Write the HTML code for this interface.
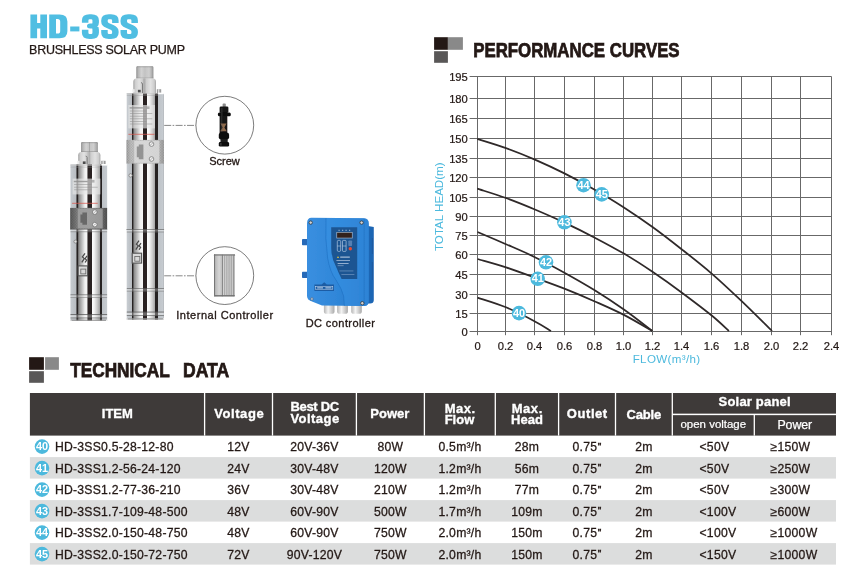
<!DOCTYPE html>
<html><head><meta charset="utf-8"><title>HD-3SS Brushless Solar Pump</title>
<style>
html,body{margin:0;padding:0;background:#fff;}
body{width:849px;height:583px;overflow:hidden;font-family:"Liberation Sans",sans-serif;}
svg{display:block;position:absolute;left:0;top:0;font-family:"Liberation Sans",sans-serif;will-change:transform;filter:grayscale(0);}
</style></head><body>
<svg width="849" height="583" viewBox="0 0 849 583">
<defs>
<linearGradient id="steel" x1="0" x2="1" y1="0" y2="0">
 <stop offset="0" stop-color="#6f6f6f"/>
 <stop offset="0.04" stop-color="#c9c9c9"/>
 <stop offset="0.10" stop-color="#9a9a9a"/>
 <stop offset="0.15" stop-color="#f2f2f2"/>
 <stop offset="0.19" stop-color="#4a4a4a"/>
 <stop offset="0.28" stop-color="#555"/>
 <stop offset="0.31" stop-color="#fbfbfb"/>
 <stop offset="0.46" stop-color="#f4f4f4"/>
 <stop offset="0.49" stop-color="#1c1c1c"/>
 <stop offset="0.60" stop-color="#2a2a2a"/>
 <stop offset="0.63" stop-color="#fdfdfd"/>
 <stop offset="0.78" stop-color="#ececec"/>
 <stop offset="0.85" stop-color="#a8a8a8"/>
 <stop offset="0.88" stop-color="#3c3c3c"/>
 <stop offset="0.96" stop-color="#505050"/>
 <stop offset="1" stop-color="#9a9a9a"/>
</linearGradient>
<linearGradient id="cap" x1="0" x2="1" y1="0" y2="0">
 <stop offset="0" stop-color="#8a8a8a"/>
 <stop offset="0.1" stop-color="#b4b4b4"/>
 <stop offset="0.3" stop-color="#d2d2d2"/>
 <stop offset="0.48" stop-color="#c4c4c4"/>
 <stop offset="0.5" stop-color="#a6a6a6"/>
 <stop offset="0.54" stop-color="#c6c6c6"/>
 <stop offset="0.75" stop-color="#cfcfcf"/>
 <stop offset="0.92" stop-color="#adadad"/>
 <stop offset="1" stop-color="#888"/>
</linearGradient>
<linearGradient id="hexf" x1="0" x2="1" y1="0" y2="0">
 <stop offset="0" stop-color="#a2a2a2"/>
 <stop offset="0.2" stop-color="#cfcfcf"/>
 <stop offset="0.55" stop-color="#e2e2e2"/>
 <stop offset="0.85" stop-color="#cdcdcd"/>
 <stop offset="1" stop-color="#a6a6a6"/>
</linearGradient>
<linearGradient id="mesh" x1="0" x2="1" y1="0" y2="0">
 <stop offset="0" stop-color="#a8a8a8"/>
 <stop offset="0.12" stop-color="#c6c6c6"/>
 <stop offset="0.5" stop-color="#d2d2d2"/>
 <stop offset="0.85" stop-color="#c2c2c2"/>
 <stop offset="1" stop-color="#a6a6a6"/>
</linearGradient>
<linearGradient id="meshd" x1="0" x2="1" y1="0" y2="0">
 <stop offset="0" stop-color="#5e5e5e"/>
 <stop offset="0.25" stop-color="#8e8e8e"/>
 <stop offset="0.5" stop-color="#9a9a9a"/>
 <stop offset="0.8" stop-color="#7c7c7c"/>
 <stop offset="1" stop-color="#555"/>
</linearGradient>
<linearGradient id="strip" x1="0" x2="1" y1="0" y2="0">
 <stop offset="0" stop-color="#bdbdbd"/>
 <stop offset="0.5" stop-color="#dedede"/>
 <stop offset="1" stop-color="#b0b0b0"/>
</linearGradient>
<linearGradient id="blue" x1="0" x2="1" y1="0" y2="0">
 <stop offset="0" stop-color="#3a8fe0"/>
 <stop offset="0.5" stop-color="#2f86d8"/>
 <stop offset="1" stop-color="#2472c4"/>
</linearGradient>
<linearGradient id="gland" x1="0" x2="1" y1="0" y2="0">
 <stop offset="0" stop-color="#b5b5b5"/>
 <stop offset="0.4" stop-color="#f4f4f4"/>
 <stop offset="1" stop-color="#a9a9a9"/>
</linearGradient>
<linearGradient id="ictl" x1="0" x2="1" y1="0" y2="0">
 <stop offset="0" stop-color="#8a8a8a"/>
 <stop offset="0.08" stop-color="#bcbcbc"/>
 <stop offset="0.25" stop-color="#d6d6d6"/>
 <stop offset="0.37" stop-color="#c0c0c0"/>
 <stop offset="0.4" stop-color="#999"/>
 <stop offset="0.45" stop-color="#d0d0d0"/>
 <stop offset="0.9" stop-color="#c4c4c4"/>
 <stop offset="1" stop-color="#8e8e8e"/>
</linearGradient>
</defs>
<g><path d="M30.4 14.4h6.7v8.6h3.2v-8.6h6.7v23.800000000000004h-6.7v-9.6h-3.2v9.6h-6.7z" fill="#50bee2"/><path fill-rule="evenodd" d="M49.2 14.4h10.4q7.8 0 7.8 7v9.8q0 7 -7.8 7h-10.4z M56.0 19.1v14.400000000000004h1.6q2.6 0 2.6 -2.6v-9.2q0 -2.6 -2.6 -2.6z" fill="#50bee2"/><rect x="70.2" y="26.5" width="9.2" height="4.9" fill="#50bee2"/><path transform="translate(81.9 0) scale(1.3 1)" d="M2.5 22.8 V20.4 Q2.5 16.7 5.9 16.7 H7.2 Q10.6 16.7 10.6 20.4 V22.4 Q10.6 26 7.6 26 H6.4 H7.6 Q10.6 26 10.6 29.8 V32.7 Q10.6 36.4 7.2 36.4 H5.9 Q2.5 36.4 2.5 32.7 V29.8" fill="none" stroke="#50bee2" stroke-width="5.0" stroke-linejoin="round"/><path transform="translate(101.2 0) scale(1.3 1)" d="M10.9 23 V20.4 Q10.9 16.7 7.5 16.7 H5.9 Q2.5 16.7 2.5 20.4 V21.4 Q2.5 24.2 5 25.5 L8.5 27.5 Q10.9 28.9 10.9 31.6 V32.7 Q10.9 36.4 7.5 36.4 H5.9 Q2.5 36.4 2.5 32.7 V30" fill="none" stroke="#50bee2" stroke-width="5.0" stroke-linejoin="round"/><path transform="translate(120.5 0) scale(1.3 1)" d="M10.9 23 V20.4 Q10.9 16.7 7.5 16.7 H5.9 Q2.5 16.7 2.5 20.4 V21.4 Q2.5 24.2 5 25.5 L8.5 27.5 Q10.9 28.9 10.9 31.6 V32.7 Q10.9 36.4 7.5 36.4 H5.9 Q2.5 36.4 2.5 32.7 V30" fill="none" stroke="#50bee2" stroke-width="5.0" stroke-linejoin="round"/></g>
<text x="29.1" y="53.8" font-size="12.5" text-anchor="start" font-weight="normal" fill="#231815" textLength="155.9" lengthAdjust="spacing" stroke="#231815" stroke-width="0.25">BRUSHLESS SOLAR PUMP</text>
<defs>
<linearGradient id="stB" gradientUnits="userSpaceOnUse" x1="126.8" x2="163.9" y1="0" y2="0">
 <stop offset="0.0000" stop-color="#aeb2b7"/>
 <stop offset="0.0189" stop-color="#c6cbd0"/>
 <stop offset="0.1280" stop-color="#b8bcc1"/>
 <stop offset="0.1402" stop-color="#272323"/>
 <stop offset="0.1725" stop-color="#272323"/>
 <stop offset="0.1860" stop-color="#868686"/>
 <stop offset="0.2941" stop-color="#c6c6c6"/>
 <stop offset="0.3654" stop-color="#f1f1f1"/>
 <stop offset="0.4299" stop-color="#f7f7f7"/>
 <stop offset="0.4420" stop-color="#2a2424"/>
 <stop offset="0.5418" stop-color="#2a2424"/>
 <stop offset="0.5553" stop-color="#fdfdfd"/>
 <stop offset="0.6079" stop-color="#f5f5f5"/>
 <stop offset="0.6984" stop-color="#c9c9c9"/>
 <stop offset="0.7628" stop-color="#a2a2a2"/>
 <stop offset="0.7736" stop-color="#252121"/>
 <stop offset="0.8275" stop-color="#252121"/>
 <stop offset="0.8410" stop-color="#bec3c8"/>
 <stop offset="0.9757" stop-color="#c6cbd0"/>
 <stop offset="1.0000" stop-color="#a4a8ad"/>
</linearGradient>
<linearGradient id="stS" gradientUnits="userSpaceOnUse" x1="69.9" x2="107.9" y1="0" y2="0">
 <stop offset="0.0000" stop-color="#aeb2b7"/>
 <stop offset="0.0184" stop-color="#c6cbd0"/>
 <stop offset="0.1671" stop-color="#b8bcc1"/>
 <stop offset="0.1789" stop-color="#272323"/>
 <stop offset="0.2158" stop-color="#272323"/>
 <stop offset="0.2289" stop-color="#868686"/>
 <stop offset="0.3297" stop-color="#c6c6c6"/>
 <stop offset="0.3965" stop-color="#f1f1f1"/>
 <stop offset="0.4566" stop-color="#f7f7f7"/>
 <stop offset="0.4684" stop-color="#2a2424"/>
 <stop offset="0.5711" stop-color="#2a2424"/>
 <stop offset="0.5842" stop-color="#fdfdfd"/>
 <stop offset="0.6341" stop-color="#f5f5f5"/>
 <stop offset="0.7204" stop-color="#c9c9c9"/>
 <stop offset="0.7816" stop-color="#a2a2a2"/>
 <stop offset="0.7921" stop-color="#252121"/>
 <stop offset="0.8342" stop-color="#252121"/>
 <stop offset="0.8474" stop-color="#bec3c8"/>
 <stop offset="0.9763" stop-color="#c6cbd0"/>
 <stop offset="1.0000" stop-color="#a4a8ad"/>
</linearGradient>
<filter id="soft" x="-5%" y="-5%" width="110%" height="110%"><feGaussianBlur stdDeviation="0.38"/></filter>
<pattern id="mp" width="1.6" height="1.6" patternUnits="userSpaceOnUse">
 <rect width="1.6" height="1.6" fill="#000" opacity="0"/>
 <rect width="0.8" height="0.8" fill="#000" opacity="0.16"/>
 <rect x="0.8" y="0.8" width="0.8" height="0.8" fill="#000" opacity="0.16"/>
</pattern>
</defs>
<g filter="url(#soft)">
<path d="M82.1 142.1 H96.8 Q97.8 142.1 97.8 143.29999999999998 V152.1 H81.1 V143.29999999999998 Q81.1 142.1 82.1 142.1Z" fill="url(#cap)"/>
<rect x="81.69999999999999" y="142.1" width="15.500000000000004" height="1.1" fill="#8c8c8c" opacity="0.55"/>
<rect x="81.1" y="151.1" width="16.700000000000003" height="1" fill="#8a8a8a" opacity="0.55"/>
<path d="M78.2 164.8 V155.3 Q78.2 152.3 81.2 151.9 H88.70000000000002 V164.8Z" fill="url(#hexf)"/>
<path d="M88.70000000000002 164.8 V151.9 H97.4 Q100.4 152.3 100.4 155.3 V164.8Z" fill="url(#hexf)"/>
<path d="M87.10000000000002 164.8 V157.3 q0 -1 -1.4 -1.2" fill="none" stroke="#6d6d6d" stroke-width="0.9"/>
<rect x="82.8" y="161.4" width="2.8" height="2.6" fill="#4c4c4c"/>
<rect x="77.0" y="160.8" width="2.6" height="3.4" fill="#f2f2f2" opacity="0.9"/>
<rect x="101.2" y="160.8" width="4.4" height="4" fill="#9d9d9d"/>
<rect x="102.60000000000001" y="160.8" width="1.1" height="4" fill="#f0f0f0"/>
<rect x="70.5" y="164.4" width="36.6" height="156.6" fill="url(#stS)"/>
<rect x="70.5" y="164.4" width="31.0" height="1.4" fill="#c9c9c9" opacity="0.7"/>
<rect x="101.3" y="164.0" width="5.8" height="1.6" fill="#fff"/>
<rect x="70.5" y="166.8" width="31.0" height="0.6" fill="#999" opacity="0.6"/>
<rect x="72.6" y="178.6" width="27.80000000000001" height="15.800000000000011" fill="#e6e6e6" opacity="0.66"/>
<rect x="73.8" y="180.79999999999998" width="13.900000000000006" height="1.4" fill="#8d8d8d" opacity="0.8"/>
<rect x="91.504" y="180.0" width="3" height="2.6" fill="#9a9a9a" opacity="0.7"/>
<rect x="74.1" y="184.2" width="17.4" height="0.8" fill="#8f8f8f" opacity="0.65"/>
<rect x="74.1" y="186.8" width="23.6" height="0.8" fill="#8f8f8f" opacity="0.65"/>
<rect x="74.1" y="189.4" width="17.4" height="0.8" fill="#8f8f8f" opacity="0.65"/>
<rect x="72.1" y="202.8" width="25.6" height="1" fill="#d8574d" opacity="0.75"/>
<rect x="70.2" y="207.9" width="36.9" height="21.299999999999983" fill="url(#meshd)"/>
<rect x="70.2" y="207.9" width="36.9" height="21.299999999999983" fill="url(#mp)"/>
<rect x="77.8" y="208.70000000000002" width="24.9" height="19.69999999999998" fill="#a2a2a2" opacity="0.8"/>
<path d="M80.4 214.5 h2 v-2 h4.6 v12.299999999999983 h-4.6 v-2 h-2z" fill="#5f5f5f" opacity="0.85"/>
<circle cx="94.8" cy="212.1" r="2.3" fill="#f4f4f4" stroke="#6c6c6c" stroke-width="0.7"/>
<path d="M93.6 212.9 l2.4 -1.6" stroke="#888" stroke-width="0.6"/>
<circle cx="94.8" cy="224.6" r="2.3" fill="#f4f4f4" stroke="#6c6c6c" stroke-width="0.7"/>
<path d="M93.6 225.4 l2.4 -1.6" stroke="#888" stroke-width="0.6"/>
<rect x="70.1" y="228.8" width="37.2" height="0.9" fill="#5e5e5e" opacity="0.7"/>
<rect x="70.5" y="229.70000000000002" width="36.6" height="1.6" fill="#fff" opacity="0.3"/>
<rect x="70.5" y="231.4" width="36.6" height="0.8" fill="#777" opacity="0.7"/>
<rect x="70.5" y="294.4" width="36.6" height="0.9" fill="#5e5e5e" opacity="0.75"/>
<rect x="70.5" y="295.4" width="36.6" height="1.4" fill="#fff" opacity="0.35"/>
<rect x="70.5" y="296.9" width="36.6" height="0.8" fill="#777" opacity="0.7"/>
<rect x="70.5" y="314.1" width="36.6" height="1" fill="#555" opacity="0.8"/>
<rect x="70.5" y="315.1" width="36.6" height="2.4" fill="#fff" opacity="0.3"/>
<rect x="70.5" y="317.5" width="36.6" height="0.9" fill="#666" opacity="0.75"/>
<rect x="70.5" y="319.6" width="36.6" height="1.4" fill="#9a9a9a" opacity="0.85"/>
<path d="M70.5 321 v-2 l1.2 2z M107.1 321 v-2 l-1.2 2z" fill="#fff"/>
<path d="M85.0 253.3 l-2.6 3.6 l1.9 1.6 l-2.5 3.8 M87.0 255.9 l-1.9 2.7 l1.5 1.4 l-1.5 2.5" fill="none" stroke="#4a4a4a" stroke-width="1.25"/>
<rect x="78.2" y="265.90000000000003" width="9.4" height="9.9" fill="#d9d9d9" stroke="#555" stroke-width="1.1"/>
<rect x="80.8" y="269.1" width="5" height="4.8" fill="none" stroke="#666" stroke-width="0.8"/>
<circle cx="75.4" cy="241.6" r="1.5" fill="#e2e2e2" stroke="#666" stroke-width="0.6"/>
<path d="M137.3 66.2 H152.4 Q153.4 66.2 153.4 67.4 V78.6 H136.3 V67.4 Q136.3 66.2 137.3 66.2Z" fill="url(#cap)"/>
<rect x="136.9" y="66.2" width="15.899999999999995" height="1.1" fill="#8c8c8c" opacity="0.55"/>
<rect x="136.3" y="77.6" width="17.099999999999994" height="1" fill="#8a8a8a" opacity="0.55"/>
<path d="M133.3 93.2 V81.80000000000001 Q133.3 78.80000000000001 136.3 78.4 H144.05 V93.2Z" fill="url(#hexf)"/>
<path d="M144.05 93.2 V78.4 H153 Q156 78.80000000000001 156 81.80000000000001 V93.2Z" fill="url(#hexf)"/>
<path d="M142.45000000000002 93.2 V83.80000000000001 q0 -1 -1.4 -1.2" fill="none" stroke="#6d6d6d" stroke-width="0.9"/>
<rect x="137.9" y="89.8" width="2.8" height="2.6" fill="#4c4c4c"/>
<rect x="132.10000000000002" y="89.2" width="2.6" height="3.4" fill="#f2f2f2" opacity="0.9"/>
<rect x="156.8" y="89.2" width="4.4" height="4" fill="#9d9d9d"/>
<rect x="158.2" y="89.2" width="1.1" height="4" fill="#f0f0f0"/>
<rect x="126.8" y="93" width="37.1" height="226.60000000000002" fill="url(#stB)"/>
<rect x="126.8" y="93" width="31.5" height="1.4" fill="#c9c9c9" opacity="0.7"/>
<rect x="158.1" y="92.6" width="5.8" height="1.6" fill="#fff"/>
<rect x="126.8" y="95.4" width="31.5" height="0.6" fill="#999" opacity="0.6"/>
<rect x="128.4" y="105" width="26.599999999999994" height="23.400000000000006" fill="#e6e6e6" opacity="0.66"/>
<rect x="129.6" y="107.2" width="13.299999999999997" height="1.4" fill="#8d8d8d" opacity="0.8"/>
<rect x="146.488" y="106.4" width="3" height="2.6" fill="#9a9a9a" opacity="0.7"/>
<rect x="129.9" y="110.6" width="16.5" height="0.8" fill="#8f8f8f" opacity="0.65"/>
<rect x="129.9" y="113.2" width="22.4" height="0.8" fill="#8f8f8f" opacity="0.65"/>
<rect x="129.9" y="115.8" width="16.5" height="0.8" fill="#8f8f8f" opacity="0.65"/>
<rect x="129.9" y="118.4" width="22.4" height="0.8" fill="#8f8f8f" opacity="0.65"/>
<rect x="129.9" y="121.0" width="16.5" height="0.8" fill="#8f8f8f" opacity="0.65"/>
<rect x="129.9" y="123.6" width="22.4" height="0.8" fill="#8f8f8f" opacity="0.65"/>
<rect x="128.4" y="133.8" width="26.1" height="1" fill="#d8574d" opacity="0.75"/>
<rect x="126.5" y="139.9" width="37.4" height="23.69999999999999" fill="url(#mesh)"/>
<rect x="126.5" y="139.9" width="37.4" height="23.69999999999999" fill="url(#mp)"/>
<rect x="134.2" y="140.70000000000002" width="25.2" height="22.099999999999987" fill="#dcdcdc" opacity="0.8"/>
<path d="M136.8 146.5 h2 v-2 h4.6 v14.699999999999989 h-4.6 v-2 h-2z" fill="#878787" opacity="0.85"/>
<circle cx="151.5" cy="144.1" r="2.3" fill="#f4f4f4" stroke="#6c6c6c" stroke-width="0.7"/>
<path d="M150.3 144.9 l2.4 -1.6" stroke="#888" stroke-width="0.6"/>
<circle cx="151.5" cy="159.0" r="2.3" fill="#f4f4f4" stroke="#6c6c6c" stroke-width="0.7"/>
<path d="M150.3 159.8 l2.4 -1.6" stroke="#888" stroke-width="0.6"/>
<rect x="126.39999999999999" y="229" width="37.7" height="0.9" fill="#5e5e5e" opacity="0.7"/>
<rect x="126.8" y="229.9" width="37.1" height="1.6" fill="#fff" opacity="0.3"/>
<rect x="126.8" y="231.6" width="37.1" height="0.8" fill="#777" opacity="0.7"/>
<rect x="126.8" y="288.2" width="37.1" height="0.9" fill="#5e5e5e" opacity="0.75"/>
<rect x="126.8" y="289.2" width="37.1" height="1.4" fill="#fff" opacity="0.35"/>
<rect x="126.8" y="290.7" width="37.1" height="0.8" fill="#777" opacity="0.7"/>
<rect x="126.8" y="311.6" width="37.1" height="1" fill="#555" opacity="0.8"/>
<rect x="126.8" y="312.6" width="37.1" height="2.4" fill="#fff" opacity="0.3"/>
<rect x="126.8" y="315.0" width="37.1" height="0.9" fill="#666" opacity="0.75"/>
<rect x="126.8" y="318.20000000000005" width="37.1" height="1.4" fill="#9a9a9a" opacity="0.85"/>
<path d="M126.8 319.6 v-2 l1.2 2z M163.9 319.6 v-2 l-1.2 2z" fill="#fff"/>
<path d="M139.0 240.6 l-2.6 3.6 l1.9 1.6 l-2.5 3.8 M141.0 243.2 l-1.9 2.7 l1.5 1.4 l-1.5 2.5" fill="none" stroke="#4a4a4a" stroke-width="1.25"/>
<rect x="132.2" y="253.2" width="9.4" height="9.9" fill="#d9d9d9" stroke="#555" stroke-width="1.1"/>
<rect x="134.79999999999998" y="256.4" width="5" height="4.8" fill="none" stroke="#666" stroke-width="0.8"/>
<circle cx="130.6" cy="175.4" r="1.7" fill="#e6e6e6" stroke="#666" stroke-width="0.6"/>
</g>
<line x1="164.2" y1="125.4" x2="195.8" y2="125.4" stroke="#555" stroke-width="0.7" stroke-dasharray="7 1.4 1.6 1.4"/>
<circle cx="224.8" cy="125.2" r="28.9" fill="#fff" stroke="#505050" stroke-width="0.75"/>
<line x1="164.2" y1="275.8" x2="195.8" y2="275.8" stroke="#555" stroke-width="0.7" stroke-dasharray="7 1.4 1.6 1.4"/>
<circle cx="224.8" cy="275.6" r="28.9" fill="#fff" stroke="#505050" stroke-width="0.75"/>
<g filter="url(#soft)">
<rect x="222.6" y="103.6" width="3.2" height="3.6" rx="0.8" fill="#8c8c8c"/>
<rect x="219.6" y="106.4" width="8.8" height="6.6" rx="1.4" fill="#151515"/>
<rect x="217.9" y="112.4" width="12.9" height="3.8" rx="1.5" fill="#0e0e0e"/>
<rect x="219.6" y="115.8" width="7.7" height="17.2" fill="#141212"/>
<path d="M220.4 123.6 L226.6 123.6 L224.4 127.4 L226.8 131.2 L220.2 131.2 L222.6 127.4Z" fill="#8e6a4c"/>
<rect x="221.2" y="108" width="1.2" height="24" fill="#555" opacity="0.45"/>
<rect x="218.8" y="132.4" width="10.3" height="7.2" rx="2.4" fill="#0f0f0f"/>
<rect x="220.5" y="139" width="7.2" height="3.6" fill="#1a1a1a"/>
<rect x="218.8" y="142" width="10.3" height="4.6" rx="1.4" fill="#0c0c0c"/>
<rect x="220.2" y="143" width="1.4" height="2.6" fill="#666" opacity="0.5"/>
</g>
<g filter="url(#soft)">
<rect x="214" y="254.4" width="21" height="42" rx="0.8" fill="url(#ictl)"/>
<rect x="222.4" y="255.4" width="0.9" height="40" fill="#6f6f6f" opacity="0.75"/>
<rect x="223.3" y="255.4" width="0.8" height="40" fill="#efefef" opacity="0.7"/>
<rect x="224.5" y="255.4" width="0.9" height="40" fill="#6f6f6f" opacity="0.75"/>
<rect x="225.4" y="255.4" width="0.8" height="40" fill="#efefef" opacity="0.7"/>
<rect x="226.6" y="255.4" width="0.9" height="40" fill="#6f6f6f" opacity="0.75"/>
<rect x="227.5" y="255.4" width="0.8" height="40" fill="#efefef" opacity="0.7"/>
<rect x="228.7" y="255.4" width="0.9" height="40" fill="#6f6f6f" opacity="0.75"/>
<rect x="229.6" y="255.4" width="0.8" height="40" fill="#efefef" opacity="0.7"/>
<rect x="230.8" y="255.4" width="0.9" height="40" fill="#6f6f6f" opacity="0.75"/>
<rect x="231.7" y="255.4" width="0.8" height="40" fill="#efefef" opacity="0.7"/>
<rect x="232.9" y="255.4" width="0.9" height="40" fill="#6f6f6f" opacity="0.75"/>
<rect x="233.8" y="255.4" width="0.8" height="40" fill="#efefef" opacity="0.7"/>
<rect x="214" y="254.4" width="21" height="1.1" fill="#6c6c6c"/>
<rect x="214.6" y="295.2" width="20" height="1.2" fill="#666"/>
<rect x="214" y="254.4" width="1" height="42" fill="#777"/>
</g>
<text x="224.5" y="165.3" font-size="11" text-anchor="middle" fill="#231815" stroke="#231815" stroke-width="0.32" textLength="30.4" lengthAdjust="spacing">Screw</text>
<text x="224.7" y="319" font-size="11" text-anchor="middle" fill="#231815" stroke="#231815" stroke-width="0.32" textLength="96.9" lengthAdjust="spacing">Internal Controller</text>
<text x="340.3" y="327.2" font-size="11" text-anchor="middle" fill="#231815" stroke="#231815" stroke-width="0.32" textLength="69.3" lengthAdjust="spacing">DC controller</text>
<g filter="url(#soft)">
<rect x="302" y="239" width="5.6" height="6.2" rx="0.8" fill="#2569b8"/>
<rect x="302" y="271.8" width="5.6" height="6.2" rx="0.8" fill="#2569b8"/>
<rect x="323.9" y="303" width="10.6" height="10.8" rx="2.6" fill="url(#gland)"/>
<rect x="337.1" y="303" width="10.8" height="10.8" rx="2.6" fill="url(#gland)"/>
<rect x="351.2" y="303" width="10.6" height="10.8" rx="2.6" fill="url(#gland)"/>
<path d="M368 226 L373.8 227 L373.8 300 Q373.8 303.6 370 303.6 L368 303.6Z" fill="#1f66b4"/>
<path d="M372.4 238 V254 M372.4 262 V280" stroke="#174f90" stroke-width="0.8" fill="none" opacity="0.7"/>
<path d="M311.5 217.8 L364 218.2 Q368.8 218.4 368.8 224 L368.8 301 Q368.8 306 364 306 L322 305.6 L312 301.6 Q307 299.6 307 296 L307 223.5 Q307 217.8 311.5 217.8Z" fill="url(#blue)"/>
<path d="M326 218 Q325 240 327.6 258 Q330 272 336 280 Q342 289 343.6 296 L344.4 305.8 L364 306 Q368.8 306 368.8 301 L368.8 224 Q368.8 218.4 364 218.2Z" fill="#3691e4" opacity="0.55"/>
<path d="M326 218 Q325 240 327.6 258 Q330 272 336 280 Q342 289 343.6 296 L344.4 305.8" fill="none" stroke="#1f6dc0" stroke-width="0.7" opacity="0.8"/>
<path d="M364.2 219 V305.6" stroke="#1e69ba" stroke-width="0.8" opacity="0.6"/>
<path d="M331.2 227.2 L357.2 227.2 L357.2 279 L341.6 279 Q338.6 273 336.6 268 Q331.2 258 331.2 248Z" fill="#1d5592"/>
<rect x="336.4" y="232" width="16.2" height="6.4" fill="#9db3c8"/>
<rect x="337.1" y="232.7" width="14.8" height="5" fill="#33211f"/>
<path d="M338.5 230.3h1.2 M342 230.3h1.2 M345.5 230.3h1.2 M349 230.3h1.2" stroke="#c7d8ec" stroke-width="0.8"/>
<rect x="337.3" y="240.4" width="3.4" height="11" rx="1.2" fill="none" stroke="#d7e5f5" stroke-width="0.55"/>
<rect x="342.5" y="240.4" width="3.6" height="11" rx="0.8" fill="none" stroke="#d7e5f5" stroke-width="0.55"/>
<rect x="348.3" y="240.4" width="3.8" height="5.6" rx="0.8" fill="#5f88b8" opacity="0.85"/>
<path d="M337.3 246 h3.4 M342.5 246 h3.6" stroke="#d7e5f5" stroke-width="0.5"/>
<circle cx="350.3" cy="248.7" r="1.7" fill="#ea4b33"/>
<path d="M337 258 l1 -1.9 l1 1.9z" fill="#e9c63c"/>
<rect x="340.2" y="256.6" width="9.6" height="1" fill="#d3e0f0" opacity="0.9"/>
<rect x="336.4" y="260" width="13.6" height="0.8" fill="#c2d3e8" opacity="0.8"/>
<rect x="337.6" y="263" width="11" height="0.9" fill="#c2d3e8" opacity="0.8"/>
<rect x="337.6" y="265.4" width="6" height="0.7" fill="#c2d3e8" opacity="0.6"/>
<rect x="339.4" y="270.6" width="14" height="0.7" fill="#9fb9dc" opacity="0.65"/>
<rect x="341.4" y="274.2" width="13" height="0.7" fill="#9fb9dc" opacity="0.65"/>
<path d="M314.4 284.6 L321.6 284.6 L324.2 282.2 L326.8 284.6 L334 284.6 L334 290.9 L314.4 290.9Z" fill="#1d5ca4"/>
<rect x="315.6" y="286.6" width="17.2" height="2.6" fill="none" stroke="#e9f2fc" stroke-width="0.5" opacity="0.9"/>
<path d="M317.2 287.9 H323 M325.4 287.9 H331.4" stroke="#e9f2fc" stroke-width="0.9" opacity="0.9"/>
<circle cx="310.7" cy="222.6" r="1.7" fill="#d2d2d2" stroke="#2b2b2b" stroke-width="0.7"/>
<circle cx="361.6" cy="222.6" r="1.7" fill="#d2d2d2" stroke="#2b2b2b" stroke-width="0.7"/>
<circle cx="362.3" cy="303.2" r="1.7" fill="#d2d2d2" stroke="#2b2b2b" stroke-width="0.7"/>
<circle cx="311.9" cy="299" r="1.4" fill="#b9c4cf" stroke="#3b5f8c" stroke-width="0.6"/>
</g>
<rect x="434.1" y="37.2" width="13.8" height="12.6" fill="#231815"/>
<rect x="447.90000000000003" y="37.2" width="15" height="12.6" fill="#898989"/>
<rect x="434.1" y="51.2" width="13.8" height="11.6" fill="#595757"/>
<rect x="29.1" y="357.2" width="14.8" height="12.6" fill="#231815"/>
<rect x="45.10000000000001" y="357.2" width="13.8" height="12.6" fill="#898989"/>
<rect x="29.1" y="371.2" width="14.8" height="11.6" fill="#595757"/>
<text x="473.2" y="57.4" font-size="20" font-weight="bold" fill="#231815" stroke="#231815" stroke-width="0.75" textLength="206.4" lengthAdjust="spacingAndGlyphs">PERFORMANCE CURVES</text>
<text x="70.2" y="377.3" font-size="19.8" font-weight="bold" fill="#231815" stroke="#231815" stroke-width="0.75" textLength="99.6" lengthAdjust="spacingAndGlyphs">TECHNICAL</text>
<text x="183.0" y="377.3" font-size="19.8" font-weight="bold" fill="#231815" stroke="#231815" stroke-width="0.75" textLength="46.2" lengthAdjust="spacingAndGlyphs">DATA</text>
<path d="M469.6 76.5H831.5 M469.6 98.5H831.5 M469.6 118.5H831.5 M469.6 138.5H831.5 M469.6 158.5H831.5 M469.6 177.5H831.5 M469.6 197.5H831.5 M469.6 216.5H831.5 M469.6 235.5H831.5 M469.6 254.5H831.5 M469.6 274.5H831.5 M469.6 294.5H831.5 M469.6 313.5H831.5 M469.6 331.5H831.5 M477.5 76.5V335.2 M505.5 76.5V335.2 M534.5 76.5V335.2 M564.5 76.5V335.2 M594.5 76.5V335.2 M623.5 76.5V335.2 M652.5 76.5V335.2 M681.5 76.5V335.2 M711.5 76.5V335.2 M741.5 76.5V335.2 M771.5 76.5V335.2 M800.5 76.5V335.2 M831.5 76.5V335.2" fill="none" stroke="#686868" stroke-width="1"/>
<text x="467.8" y="80.5" font-size="11.2" text-anchor="end" font-weight="normal" fill="#231815" stroke="#231815" stroke-width="0.22">195</text>
<text x="467.8" y="102.5" font-size="11.2" text-anchor="end" font-weight="normal" fill="#231815" stroke="#231815" stroke-width="0.22">180</text>
<text x="467.8" y="122.5" font-size="11.2" text-anchor="end" font-weight="normal" fill="#231815" stroke="#231815" stroke-width="0.22">165</text>
<text x="467.8" y="142.5" font-size="11.2" text-anchor="end" font-weight="normal" fill="#231815" stroke="#231815" stroke-width="0.22">150</text>
<text x="467.8" y="162.5" font-size="11.2" text-anchor="end" font-weight="normal" fill="#231815" stroke="#231815" stroke-width="0.22">135</text>
<text x="467.8" y="181.5" font-size="11.2" text-anchor="end" font-weight="normal" fill="#231815" stroke="#231815" stroke-width="0.22">120</text>
<text x="467.8" y="201.5" font-size="11.2" text-anchor="end" font-weight="normal" fill="#231815" stroke="#231815" stroke-width="0.22">105</text>
<text x="467.8" y="220.5" font-size="11.2" text-anchor="end" font-weight="normal" fill="#231815" stroke="#231815" stroke-width="0.22">90</text>
<text x="467.8" y="239.5" font-size="11.2" text-anchor="end" font-weight="normal" fill="#231815" stroke="#231815" stroke-width="0.22">75</text>
<text x="467.8" y="258.5" font-size="11.2" text-anchor="end" font-weight="normal" fill="#231815" stroke="#231815" stroke-width="0.22">60</text>
<text x="467.8" y="278.5" font-size="11.2" text-anchor="end" font-weight="normal" fill="#231815" stroke="#231815" stroke-width="0.22">45</text>
<text x="467.8" y="298.5" font-size="11.2" text-anchor="end" font-weight="normal" fill="#231815" stroke="#231815" stroke-width="0.22">30</text>
<text x="467.8" y="317.5" font-size="11.2" text-anchor="end" font-weight="normal" fill="#231815" stroke="#231815" stroke-width="0.22">15</text>
<text x="467.8" y="335.5" font-size="11.2" text-anchor="end" font-weight="normal" fill="#231815" stroke="#231815" stroke-width="0.22">0</text>
<text x="477.5" y="350.3" font-size="11.2" text-anchor="middle" font-weight="normal" fill="#231815" stroke="#231815" stroke-width="0.22">0</text>
<text x="505.5" y="350.3" font-size="11.2" text-anchor="middle" font-weight="normal" fill="#231815" stroke="#231815" stroke-width="0.22">0.2</text>
<text x="534.5" y="350.3" font-size="11.2" text-anchor="middle" font-weight="normal" fill="#231815" stroke="#231815" stroke-width="0.22">0.4</text>
<text x="564.5" y="350.3" font-size="11.2" text-anchor="middle" font-weight="normal" fill="#231815" stroke="#231815" stroke-width="0.22">0.6</text>
<text x="594.5" y="350.3" font-size="11.2" text-anchor="middle" font-weight="normal" fill="#231815" stroke="#231815" stroke-width="0.22">0.8</text>
<text x="623.5" y="350.3" font-size="11.2" text-anchor="middle" font-weight="normal" fill="#231815" stroke="#231815" stroke-width="0.22">1.0</text>
<text x="652.5" y="350.3" font-size="11.2" text-anchor="middle" font-weight="normal" fill="#231815" stroke="#231815" stroke-width="0.22">1.2</text>
<text x="681.5" y="350.3" font-size="11.2" text-anchor="middle" font-weight="normal" fill="#231815" stroke="#231815" stroke-width="0.22">1.4</text>
<text x="711.5" y="350.3" font-size="11.2" text-anchor="middle" font-weight="normal" fill="#231815" stroke="#231815" stroke-width="0.22">1.6</text>
<text x="741.5" y="350.3" font-size="11.2" text-anchor="middle" font-weight="normal" fill="#231815" stroke="#231815" stroke-width="0.22">1.8</text>
<text x="771.5" y="350.3" font-size="11.2" text-anchor="middle" font-weight="normal" fill="#231815" stroke="#231815" stroke-width="0.22">2.0</text>
<text x="800.5" y="350.3" font-size="11.2" text-anchor="middle" font-weight="normal" fill="#231815" stroke="#231815" stroke-width="0.22">2.2</text>
<text x="831.5" y="350.3" font-size="11.2" text-anchor="middle" font-weight="normal" fill="#231815" stroke="#231815" stroke-width="0.22">2.4</text>
<text transform="translate(443.4 206.7) rotate(-90)" font-size="11.6" text-anchor="middle" fill="#4cb9dd" textLength="88.6">TOTAL HEAD(m)</text>
<text x="666.4" y="363.4" font-size="11.6" text-anchor="middle" fill="#4cb9dd" textLength="67.4">FLOW(m³/h)</text>
<path d="M477.2 138.9 C482.0 140.4 496.4 144.7 506 148.1 C515.6 151.5 525.2 155.4 534.9 159.6 C544.6 163.8 554.5 168.4 564.4 173.4 C574.3 178.4 584.4 183.8 594.3 189.5 C604.2 195.2 614.2 201.2 623.9 207.5 C633.6 213.8 642.9 220.1 652.5 227.0 C662.1 233.9 671.8 241.5 681.6 249.2 C691.4 256.9 701.4 264.7 711.4 273.3 C721.4 281.9 731.3 291.3 741.4 300.9 C751.5 310.5 766.9 326.0 772 331" fill="none" stroke="#2f2929" stroke-width="1.75" stroke-linecap="butt"/>
<path d="M477.2 188.6 C482.0 190.2 496.4 194.5 506 198.0 C515.6 201.5 525.2 205.4 534.9 209.5 C544.6 213.6 554.5 217.9 564.4 222.6 C574.3 227.2 584.4 232.2 594.3 237.4 C604.2 242.6 614.2 247.9 623.9 253.6 C633.6 259.3 642.9 265.3 652.5 271.8 C662.1 278.3 671.8 285.2 681.6 292.5 C691.4 299.8 703.5 308.9 711.4 315.3 C719.3 321.7 726.0 328.4 728.9 331" fill="none" stroke="#2f2929" stroke-width="1.75" stroke-linecap="butt"/>
<path d="M477.5 232 C482.2 234.0 496.4 240.0 506 244.2 C515.6 248.4 525.2 252.4 534.9 257.2 C544.6 261.9 554.5 267.2 564.4 272.7 C574.3 278.2 584.4 283.9 594.3 290 C604.2 296.1 614.2 302.7 623.9 309.5 C633.6 316.3 647.6 327.4 652.3 331" fill="none" stroke="#2f2929" stroke-width="1.75" stroke-linecap="butt"/>
<path d="M477.5 259 C482.2 260.4 496.4 264.2 506 267.3 C515.6 270.4 525.2 274.1 534.9 277.7 C544.6 281.2 554.5 284.7 564.4 288.6 C574.3 292.5 584.4 296.8 594.3 301.2 C604.2 305.6 614.2 309.9 623.9 314.9 C633.6 319.9 647.6 328.3 652.3 331" fill="none" stroke="#2f2929" stroke-width="1.75" stroke-linecap="butt"/>
<path d="M477.5 297.6 C482.2 299.2 496.4 303.3 506 307.3 C515.6 311.3 527.4 317.4 534.9 321.4 C542.4 325.3 548.3 329.4 551 331" fill="none" stroke="#2f2929" stroke-width="1.75" stroke-linecap="butt"/>
<circle cx="583.5" cy="185.2" r="7.3" fill="#4cb9dd"/>
<text x="583.5" y="188.79999999999998" font-size="10" font-weight="bold" text-anchor="middle" fill="#fff" textLength="12.1" lengthAdjust="spacingAndGlyphs">44</text>
<circle cx="601.7" cy="194.4" r="7.3" fill="#4cb9dd"/>
<text x="601.7" y="198.0" font-size="10" font-weight="bold" text-anchor="middle" fill="#fff" textLength="12.1" lengthAdjust="spacingAndGlyphs">45</text>
<circle cx="564.4" cy="222.3" r="7.3" fill="#4cb9dd"/>
<text x="564.4" y="225.9" font-size="10" font-weight="bold" text-anchor="middle" fill="#fff" textLength="12.1" lengthAdjust="spacingAndGlyphs">43</text>
<circle cx="546" cy="262.3" r="7.3" fill="#4cb9dd"/>
<text x="546" y="265.90000000000003" font-size="10" font-weight="bold" text-anchor="middle" fill="#fff" textLength="12.1" lengthAdjust="spacingAndGlyphs">42</text>
<circle cx="537.7" cy="278.8" r="7.3" fill="#4cb9dd"/>
<text x="537.7" y="282.40000000000003" font-size="10" font-weight="bold" text-anchor="middle" fill="#fff" textLength="12.1" lengthAdjust="spacingAndGlyphs">41</text>
<circle cx="519" cy="313.1" r="7.3" fill="#4cb9dd"/>
<text x="519" y="316.70000000000005" font-size="10" font-weight="bold" text-anchor="middle" fill="#fff" textLength="12.1" lengthAdjust="spacingAndGlyphs">40</text>
<rect x="29.9" y="393.0" width="806.1" height="42.60000000000002" fill="#3e3a39"/>
<rect x="203.95" y="393.0" width="1.3" height="42.60000000000002" fill="#fff"/>
<rect x="271.85" y="393.0" width="1.3" height="42.60000000000002" fill="#fff"/>
<rect x="355.75" y="393.0" width="1.3" height="42.60000000000002" fill="#fff"/>
<rect x="423.75" y="393.0" width="1.3" height="42.60000000000002" fill="#fff"/>
<rect x="494.65000000000003" y="393.0" width="1.3" height="42.60000000000002" fill="#fff"/>
<rect x="557.95" y="393.0" width="1.3" height="42.60000000000002" fill="#fff"/>
<rect x="614.85" y="393.0" width="1.3" height="42.60000000000002" fill="#fff"/>
<rect x="671.65" y="393.0" width="1.3" height="42.60000000000002" fill="#fff"/>
<rect x="754.3" y="414.3" width="1.3" height="21.30000000000001" fill="#fff" transform="translate(-0.65 0)"/>
<rect x="672.3" y="413.65" width="163.70000000000005" height="1.5" fill="#fff"/>
<rect x="29.9" y="457.10" width="806.1" height="21.5" fill="#dcdddd"/>
<rect x="29.9" y="500.10" width="806.1" height="21.5" fill="#dcdddd"/>
<rect x="29.9" y="543.10" width="806.1" height="21.5" fill="#dcdddd"/>
<text x="117.3" y="418.3" font-size="13" font-weight="bold" text-anchor="middle" fill="#fff" stroke="#fff" stroke-width="0.35" textLength="31" lengthAdjust="spacing">ITEM</text>
<text x="238.9" y="417.9" font-size="13" font-weight="bold" text-anchor="middle" fill="#fff" stroke="#fff" stroke-width="0.35" textLength="49.5" lengthAdjust="spacing">Voltage</text>
<text x="314.8" y="411.3" font-size="13" font-weight="bold" text-anchor="middle" fill="#fff" stroke="#fff" stroke-width="0.35" textLength="48.7" lengthAdjust="spacing">Best DC</text>
<text x="314.8" y="423.3" font-size="13" font-weight="bold" text-anchor="middle" fill="#fff" stroke="#fff" stroke-width="0.35" textLength="48.7" lengthAdjust="spacing">Voltage</text>
<text x="389.8" y="418.1" font-size="13" font-weight="bold" text-anchor="middle" fill="#fff" stroke="#fff" stroke-width="0.35" textLength="39" lengthAdjust="spacing">Power</text>
<text x="459.9" y="413.2" font-size="13" font-weight="bold" text-anchor="middle" fill="#fff" stroke="#fff" stroke-width="0.35" textLength="30.5" lengthAdjust="spacing">Max.</text>
<text x="459.5" y="424.2" font-size="13" font-weight="bold" text-anchor="middle" fill="#fff" stroke="#fff" stroke-width="0.35" textLength="29.7" lengthAdjust="spacing">Flow</text>
<text x="527" y="413.2" font-size="13" font-weight="bold" text-anchor="middle" fill="#fff" stroke="#fff" stroke-width="0.35" textLength="30.5" lengthAdjust="spacing">Max.</text>
<text x="527" y="424.2" font-size="13" font-weight="bold" text-anchor="middle" fill="#fff" stroke="#fff" stroke-width="0.35" textLength="32" lengthAdjust="spacing">Head</text>
<text x="587" y="418.3" font-size="13" font-weight="bold" text-anchor="middle" fill="#fff" stroke="#fff" stroke-width="0.35" textLength="40.4" lengthAdjust="spacing">Outlet</text>
<text x="643.9" y="418.6" font-size="13" font-weight="bold" text-anchor="middle" fill="#fff" stroke="#fff" stroke-width="0.35" textLength="34.8" lengthAdjust="spacing">Cable</text>
<text x="754.6" y="406.4" font-size="13" font-weight="bold" text-anchor="middle" fill="#fff" stroke="#fff" stroke-width="0.35" textLength="72" lengthAdjust="spacing">Solar panel</text>
<text x="713.3" y="427.6" font-size="11.6" text-anchor="middle" fill="#fff" stroke="#fff" stroke-width="0.22" textLength="65.6" lengthAdjust="spacingAndGlyphs">open voltage</text>
<text x="794.8" y="428.7" font-size="12.4" text-anchor="middle" fill="#fff" stroke="#fff" stroke-width="0.25" textLength="34.8" lengthAdjust="spacing">Power</text>
<circle cx="42.0" cy="446.6" r="7.3" fill="#4cb9dd"/>
<text x="42.0" y="450.20000000000005" font-size="10" font-weight="bold" text-anchor="middle" fill="#fff" textLength="12.1" lengthAdjust="spacingAndGlyphs">40</text>
<text x="54.9" y="451.1" font-size="12.2" fill="#231815" stroke="#231815" stroke-width="0.28" letter-spacing="0.24">HD-3SS0.5-28-12-80</text>
<text x="238.5" y="451.1" font-size="12.2" fill="#231815" stroke="#231815" stroke-width="0.28" text-anchor="middle" letter-spacing="0.25">12V</text>
<text x="314.5" y="451.1" font-size="12.2" fill="#231815" stroke="#231815" stroke-width="0.28" text-anchor="middle" letter-spacing="0.25">20V-36V</text>
<text x="390.3" y="451.1" font-size="12.2" fill="#231815" stroke="#231815" stroke-width="0.28" text-anchor="middle" letter-spacing="0.25">80W</text>
<text x="460" y="451.1" font-size="12.2" fill="#231815" stroke="#231815" stroke-width="0.28" text-anchor="middle" letter-spacing="0.25">0.5m³/h</text>
<text x="527" y="451.1" font-size="12.2" fill="#231815" stroke="#231815" stroke-width="0.28" text-anchor="middle" letter-spacing="0.25">28m</text>
<text x="587.1" y="451.1" font-size="12.2" fill="#231815" stroke="#231815" stroke-width="0.28" text-anchor="middle" letter-spacing="0.25">0.75<tspan font-size="8.5" dy="-2.6" dx="0.1" font-weight="bold">"</tspan></text>
<text x="644" y="451.1" font-size="12.2" fill="#231815" stroke="#231815" stroke-width="0.28" text-anchor="middle" letter-spacing="0.25">2m</text>
<text x="699.5" y="451.1" font-size="12.2" fill="#231815" stroke="#231815" stroke-width="0.28" letter-spacing="0.25">&lt;50V</text>
<text x="770.6" y="451.1" font-size="12.2" fill="#231815" stroke="#231815" stroke-width="0.28" letter-spacing="0.25">≥150W</text>
<circle cx="42.0" cy="468.1" r="7.3" fill="#4cb9dd"/>
<text x="42.0" y="471.70000000000005" font-size="10" font-weight="bold" text-anchor="middle" fill="#fff" textLength="12.1" lengthAdjust="spacingAndGlyphs">41</text>
<text x="54.9" y="472.6" font-size="12.2" fill="#231815" stroke="#231815" stroke-width="0.28" letter-spacing="0.24">HD-3SS1.2-56-24-120</text>
<text x="238.5" y="472.6" font-size="12.2" fill="#231815" stroke="#231815" stroke-width="0.28" text-anchor="middle" letter-spacing="0.25">24V</text>
<text x="314.5" y="472.6" font-size="12.2" fill="#231815" stroke="#231815" stroke-width="0.28" text-anchor="middle" letter-spacing="0.25">30V-48V</text>
<text x="390.3" y="472.6" font-size="12.2" fill="#231815" stroke="#231815" stroke-width="0.28" text-anchor="middle" letter-spacing="0.25">120W</text>
<text x="460" y="472.6" font-size="12.2" fill="#231815" stroke="#231815" stroke-width="0.28" text-anchor="middle" letter-spacing="0.25">1.2m³/h</text>
<text x="527" y="472.6" font-size="12.2" fill="#231815" stroke="#231815" stroke-width="0.28" text-anchor="middle" letter-spacing="0.25">56m</text>
<text x="587.1" y="472.6" font-size="12.2" fill="#231815" stroke="#231815" stroke-width="0.28" text-anchor="middle" letter-spacing="0.25">0.75<tspan font-size="8.5" dy="-2.6" dx="0.1" font-weight="bold">"</tspan></text>
<text x="644" y="472.6" font-size="12.2" fill="#231815" stroke="#231815" stroke-width="0.28" text-anchor="middle" letter-spacing="0.25">2m</text>
<text x="699.5" y="472.6" font-size="12.2" fill="#231815" stroke="#231815" stroke-width="0.28" letter-spacing="0.25">&lt;50V</text>
<text x="770.6" y="472.6" font-size="12.2" fill="#231815" stroke="#231815" stroke-width="0.28" letter-spacing="0.25">≥250W</text>
<circle cx="42.0" cy="489.6" r="7.3" fill="#4cb9dd"/>
<text x="42.0" y="493.20000000000005" font-size="10" font-weight="bold" text-anchor="middle" fill="#fff" textLength="12.1" lengthAdjust="spacingAndGlyphs">42</text>
<text x="54.9" y="494.1" font-size="12.2" fill="#231815" stroke="#231815" stroke-width="0.28" letter-spacing="0.24">HD-3SS1.2-77-36-210</text>
<text x="238.5" y="494.1" font-size="12.2" fill="#231815" stroke="#231815" stroke-width="0.28" text-anchor="middle" letter-spacing="0.25">36V</text>
<text x="314.5" y="494.1" font-size="12.2" fill="#231815" stroke="#231815" stroke-width="0.28" text-anchor="middle" letter-spacing="0.25">30V-48V</text>
<text x="390.3" y="494.1" font-size="12.2" fill="#231815" stroke="#231815" stroke-width="0.28" text-anchor="middle" letter-spacing="0.25">210W</text>
<text x="460" y="494.1" font-size="12.2" fill="#231815" stroke="#231815" stroke-width="0.28" text-anchor="middle" letter-spacing="0.25">1.2m³/h</text>
<text x="527" y="494.1" font-size="12.2" fill="#231815" stroke="#231815" stroke-width="0.28" text-anchor="middle" letter-spacing="0.25">77m</text>
<text x="587.1" y="494.1" font-size="12.2" fill="#231815" stroke="#231815" stroke-width="0.28" text-anchor="middle" letter-spacing="0.25">0.75<tspan font-size="8.5" dy="-2.6" dx="0.1" font-weight="bold">"</tspan></text>
<text x="644" y="494.1" font-size="12.2" fill="#231815" stroke="#231815" stroke-width="0.28" text-anchor="middle" letter-spacing="0.25">2m</text>
<text x="699.5" y="494.1" font-size="12.2" fill="#231815" stroke="#231815" stroke-width="0.28" letter-spacing="0.25">&lt;50V</text>
<text x="770.6" y="494.1" font-size="12.2" fill="#231815" stroke="#231815" stroke-width="0.28" letter-spacing="0.25">≥300W</text>
<circle cx="42.0" cy="511.1" r="7.3" fill="#4cb9dd"/>
<text x="42.0" y="514.7" font-size="10" font-weight="bold" text-anchor="middle" fill="#fff" textLength="12.1" lengthAdjust="spacingAndGlyphs">43</text>
<text x="54.9" y="515.6" font-size="12.2" fill="#231815" stroke="#231815" stroke-width="0.28" letter-spacing="0.24">HD-3SS1.7-109-48-500</text>
<text x="238.5" y="515.6" font-size="12.2" fill="#231815" stroke="#231815" stroke-width="0.28" text-anchor="middle" letter-spacing="0.25">48V</text>
<text x="314.5" y="515.6" font-size="12.2" fill="#231815" stroke="#231815" stroke-width="0.28" text-anchor="middle" letter-spacing="0.25">60V-90V</text>
<text x="390.3" y="515.6" font-size="12.2" fill="#231815" stroke="#231815" stroke-width="0.28" text-anchor="middle" letter-spacing="0.25">500W</text>
<text x="460" y="515.6" font-size="12.2" fill="#231815" stroke="#231815" stroke-width="0.28" text-anchor="middle" letter-spacing="0.25">1.7m³/h</text>
<text x="527" y="515.6" font-size="12.2" fill="#231815" stroke="#231815" stroke-width="0.28" text-anchor="middle" letter-spacing="0.25">109m</text>
<text x="587.1" y="515.6" font-size="12.2" fill="#231815" stroke="#231815" stroke-width="0.28" text-anchor="middle" letter-spacing="0.25">0.75<tspan font-size="8.5" dy="-2.6" dx="0.1" font-weight="bold">"</tspan></text>
<text x="644" y="515.6" font-size="12.2" fill="#231815" stroke="#231815" stroke-width="0.28" text-anchor="middle" letter-spacing="0.25">2m</text>
<text x="699.5" y="515.6" font-size="12.2" fill="#231815" stroke="#231815" stroke-width="0.28" letter-spacing="0.25">&lt;100V</text>
<text x="770.6" y="515.6" font-size="12.2" fill="#231815" stroke="#231815" stroke-width="0.28" letter-spacing="0.25">≥600W</text>
<circle cx="42.0" cy="532.6" r="7.3" fill="#4cb9dd"/>
<text x="42.0" y="536.2" font-size="10" font-weight="bold" text-anchor="middle" fill="#fff" textLength="12.1" lengthAdjust="spacingAndGlyphs">44</text>
<text x="54.9" y="537.1" font-size="12.2" fill="#231815" stroke="#231815" stroke-width="0.28" letter-spacing="0.24">HD-3SS2.0-150-48-750</text>
<text x="238.5" y="537.1" font-size="12.2" fill="#231815" stroke="#231815" stroke-width="0.28" text-anchor="middle" letter-spacing="0.25">48V</text>
<text x="314.5" y="537.1" font-size="12.2" fill="#231815" stroke="#231815" stroke-width="0.28" text-anchor="middle" letter-spacing="0.25">60V-90V</text>
<text x="390.3" y="537.1" font-size="12.2" fill="#231815" stroke="#231815" stroke-width="0.28" text-anchor="middle" letter-spacing="0.25">750W</text>
<text x="460" y="537.1" font-size="12.2" fill="#231815" stroke="#231815" stroke-width="0.28" text-anchor="middle" letter-spacing="0.25">2.0m³/h</text>
<text x="527" y="537.1" font-size="12.2" fill="#231815" stroke="#231815" stroke-width="0.28" text-anchor="middle" letter-spacing="0.25">150m</text>
<text x="587.1" y="537.1" font-size="12.2" fill="#231815" stroke="#231815" stroke-width="0.28" text-anchor="middle" letter-spacing="0.25">0.75<tspan font-size="8.5" dy="-2.6" dx="0.1" font-weight="bold">"</tspan></text>
<text x="644" y="537.1" font-size="12.2" fill="#231815" stroke="#231815" stroke-width="0.28" text-anchor="middle" letter-spacing="0.25">2m</text>
<text x="699.5" y="537.1" font-size="12.2" fill="#231815" stroke="#231815" stroke-width="0.28" letter-spacing="0.25">&lt;100V</text>
<text x="770.6" y="537.1" font-size="12.2" fill="#231815" stroke="#231815" stroke-width="0.28" letter-spacing="0.25">≥1000W</text>
<circle cx="42.0" cy="554.1" r="7.3" fill="#4cb9dd"/>
<text x="42.0" y="557.7" font-size="10" font-weight="bold" text-anchor="middle" fill="#fff" textLength="12.1" lengthAdjust="spacingAndGlyphs">45</text>
<text x="54.9" y="558.6" font-size="12.2" fill="#231815" stroke="#231815" stroke-width="0.28" letter-spacing="0.24">HD-3SS2.0-150-72-750</text>
<text x="238.5" y="558.6" font-size="12.2" fill="#231815" stroke="#231815" stroke-width="0.28" text-anchor="middle" letter-spacing="0.25">72V</text>
<text x="314.5" y="558.6" font-size="12.2" fill="#231815" stroke="#231815" stroke-width="0.28" text-anchor="middle" letter-spacing="0.25">90V-120V</text>
<text x="390.3" y="558.6" font-size="12.2" fill="#231815" stroke="#231815" stroke-width="0.28" text-anchor="middle" letter-spacing="0.25">750W</text>
<text x="460" y="558.6" font-size="12.2" fill="#231815" stroke="#231815" stroke-width="0.28" text-anchor="middle" letter-spacing="0.25">2.0m³/h</text>
<text x="527" y="558.6" font-size="12.2" fill="#231815" stroke="#231815" stroke-width="0.28" text-anchor="middle" letter-spacing="0.25">150m</text>
<text x="587.1" y="558.6" font-size="12.2" fill="#231815" stroke="#231815" stroke-width="0.28" text-anchor="middle" letter-spacing="0.25">0.75<tspan font-size="8.5" dy="-2.6" dx="0.1" font-weight="bold">"</tspan></text>
<text x="644" y="558.6" font-size="12.2" fill="#231815" stroke="#231815" stroke-width="0.28" text-anchor="middle" letter-spacing="0.25">2m</text>
<text x="699.5" y="558.6" font-size="12.2" fill="#231815" stroke="#231815" stroke-width="0.28" letter-spacing="0.25">&lt;150V</text>
<text x="770.6" y="558.6" font-size="12.2" fill="#231815" stroke="#231815" stroke-width="0.28" letter-spacing="0.25">≥1000W</text>
</svg>
</body></html>
